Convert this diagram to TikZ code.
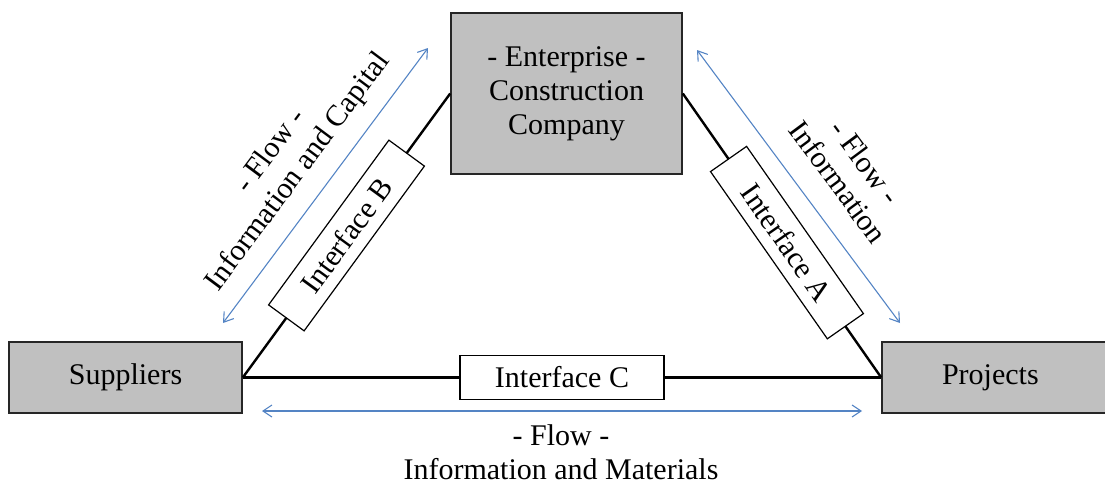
\documentclass[tikz,border=0pt]{standalone}
\usepackage{fontspec}
\setmainfont{Liberation Serif}
\usetikzlibrary{arrows.meta}
\definecolor{boxgray}{RGB}{192,192,192}
\definecolor{flowblue}{RGB}{84,132,196}
\begin{document}
\begin{tikzpicture}[x=1pt,y=-1pt,
  txt/.style={font=\fontsize{30}{34}\selectfont},
  entity/.style={txt,draw=black!85,line width=1.6pt,fill=boxgray,inner sep=0pt,align=center},
  iface/.style={txt,draw=black,line width=1.2pt,fill=white,minimum width=204pt,minimum height=44pt,inner sep=0pt},
  conn/.style={draw=black,line width=2.4pt},
  flow/.style={draw=flowblue,line width=1.1pt,{Straight Barb[length=9pt,width=12pt]}-{Straight Barb[length=9pt,width=12pt]}},
  flowlabel/.style={txt,align=center}]
\useasboundingbox (0,0) rectangle (1105,485);
% entities
\node[entity,minimum width=231pt,minimum height=161pt] (ent) at (566.5,93.5) {- Enterprise -\\Construction\\Company};
\node[entity,minimum width=233pt,minimum height=71pt] (sup) at (125.5,377.5) {Suppliers};
\node[entity,minimum width=228pt,minimum height=71pt,text width=228pt,align=left] (proj) at (996,377.5) {\hspace{60pt}Projects};
% connectors with interfaces
\draw[conn] (sup.east) -- node[iface,sloped,pos=0.5] (ifb) {Interface B} (ent.west);
\draw[conn] (ent.east) -- node[iface,sloped,pos=0.525] (ifa) {Interface A} (proj.west);
\draw[conn] (sup.east) -- node[iface,pos=0.5] (ifc) {Interface C} (proj.west);
% flow arrows
\coordinate (fb1) at (223,323);
\coordinate (fb2) at (428,48);
\coordinate (fa1) at (697,50);
\coordinate (fa2) at (900,323);
\coordinate (fc1) at (262,411);
\coordinate (fc2) at (862,411);
\draw[flow] (fb1) -- (fb2);
\draw[flow] (fa1) -- (fa2);
\draw[flow] (fc1) -- (fc2);
% flow labels
\node[flowlabel,rotate=53.3] (lb) at (285,162) {- Flow -\\Information and Capital};
\node[flowlabel,rotate=-53.4] (la) at (852,172) {- Flow -\\Information};
\node[flowlabel] (lc) at (561,452) {- Flow -\\Information and Materials};
\end{tikzpicture}
\end{document}
